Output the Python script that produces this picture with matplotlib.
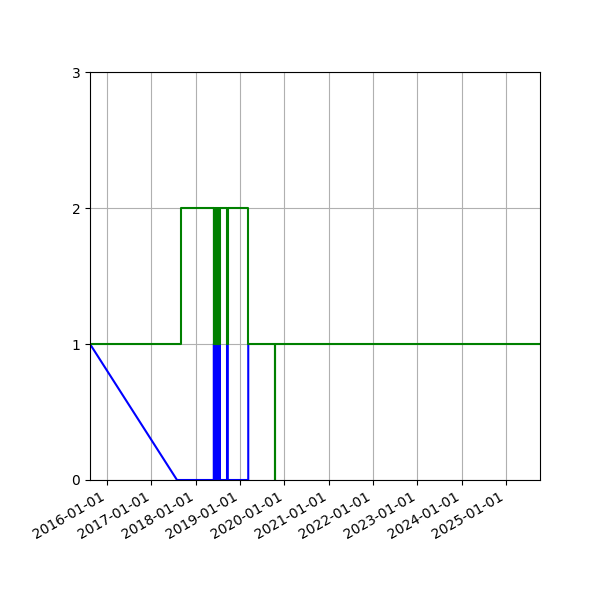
import numpy as np
import pandas as pd
import matplotlib
matplotlib.use('Agg')
import matplotlib.pyplot as plt
import matplotlib.dates as mdates

# series endpoints
start_date = "2015-08-14"
end_date = "2025-10-08"

# blue: falls from 1 to 0, then short spikes to 1
blue_zero_date = "2017-07-31"
spike_starts = ["2018-05-30", "2018-06-04", "2018-06-08", "2018-06-12", "2018-06-16",
                "2018-06-20", "2018-06-24", "2018-06-28", "2018-07-02", "2018-07-06",
                "2018-07-10", "2018-07-14", "2018-09-16"]
spike_ends = ["2018-06-01", "2018-06-06", "2018-06-10", "2018-06-14", "2018-06-18",
              "2018-06-22", "2018-06-26", "2018-06-30", "2018-07-04", "2018-07-08",
              "2018-07-12", "2018-07-19", "2018-09-22"]
blue_last_date = "2019-03-10"

# green: step series
green_up_date = "2017-09-04"
green_drop_date = "2019-03-10"
green_dip_start = "2019-10-14"
green_dip_end = "2019-10-16"

# build blue series
blue_x = [start_date, blue_zero_date]
blue_y = [1, 0]
for s, e in zip(spike_starts, spike_ends):
    blue_x += [s, s, e, e]
    blue_y += [0, 1, 1, 0]
blue_x += [blue_last_date, blue_last_date]
blue_y += [0, 1]

# build green series
green_x = [start_date, green_up_date]
green_y = [1, 2]
for s, e in zip(spike_starts, spike_ends):
    green_x += [s, e]
    green_y += [1, 2]
green_x += [green_drop_date, green_dip_start, green_dip_end, end_date]
green_y += [1, 0, 1, 1]

blue_x = pd.to_datetime(blue_x)
green_x = pd.to_datetime(green_x)

fig, ax = plt.subplots(figsize=(6, 6), dpi=100)
ax.plot(blue_x, blue_y, color='b')
ax.step(green_x, green_y, where='post', color='g')

ax.set_xlim(pd.Timestamp(start_date), pd.Timestamp(end_date))
ax.set_ylim(0, 3)
ax.set_yticks([0, 1, 2, 3])
ax.xaxis.set_major_locator(mdates.YearLocator())
ax.xaxis.set_major_formatter(mdates.DateFormatter('%Y-%m-%d'))
ax.grid(True)

fig.autofmt_xdate()
fig.subplots_adjust(left=0.15, right=0.9, top=0.88, bottom=0.2)
fig.savefig("out.png")
